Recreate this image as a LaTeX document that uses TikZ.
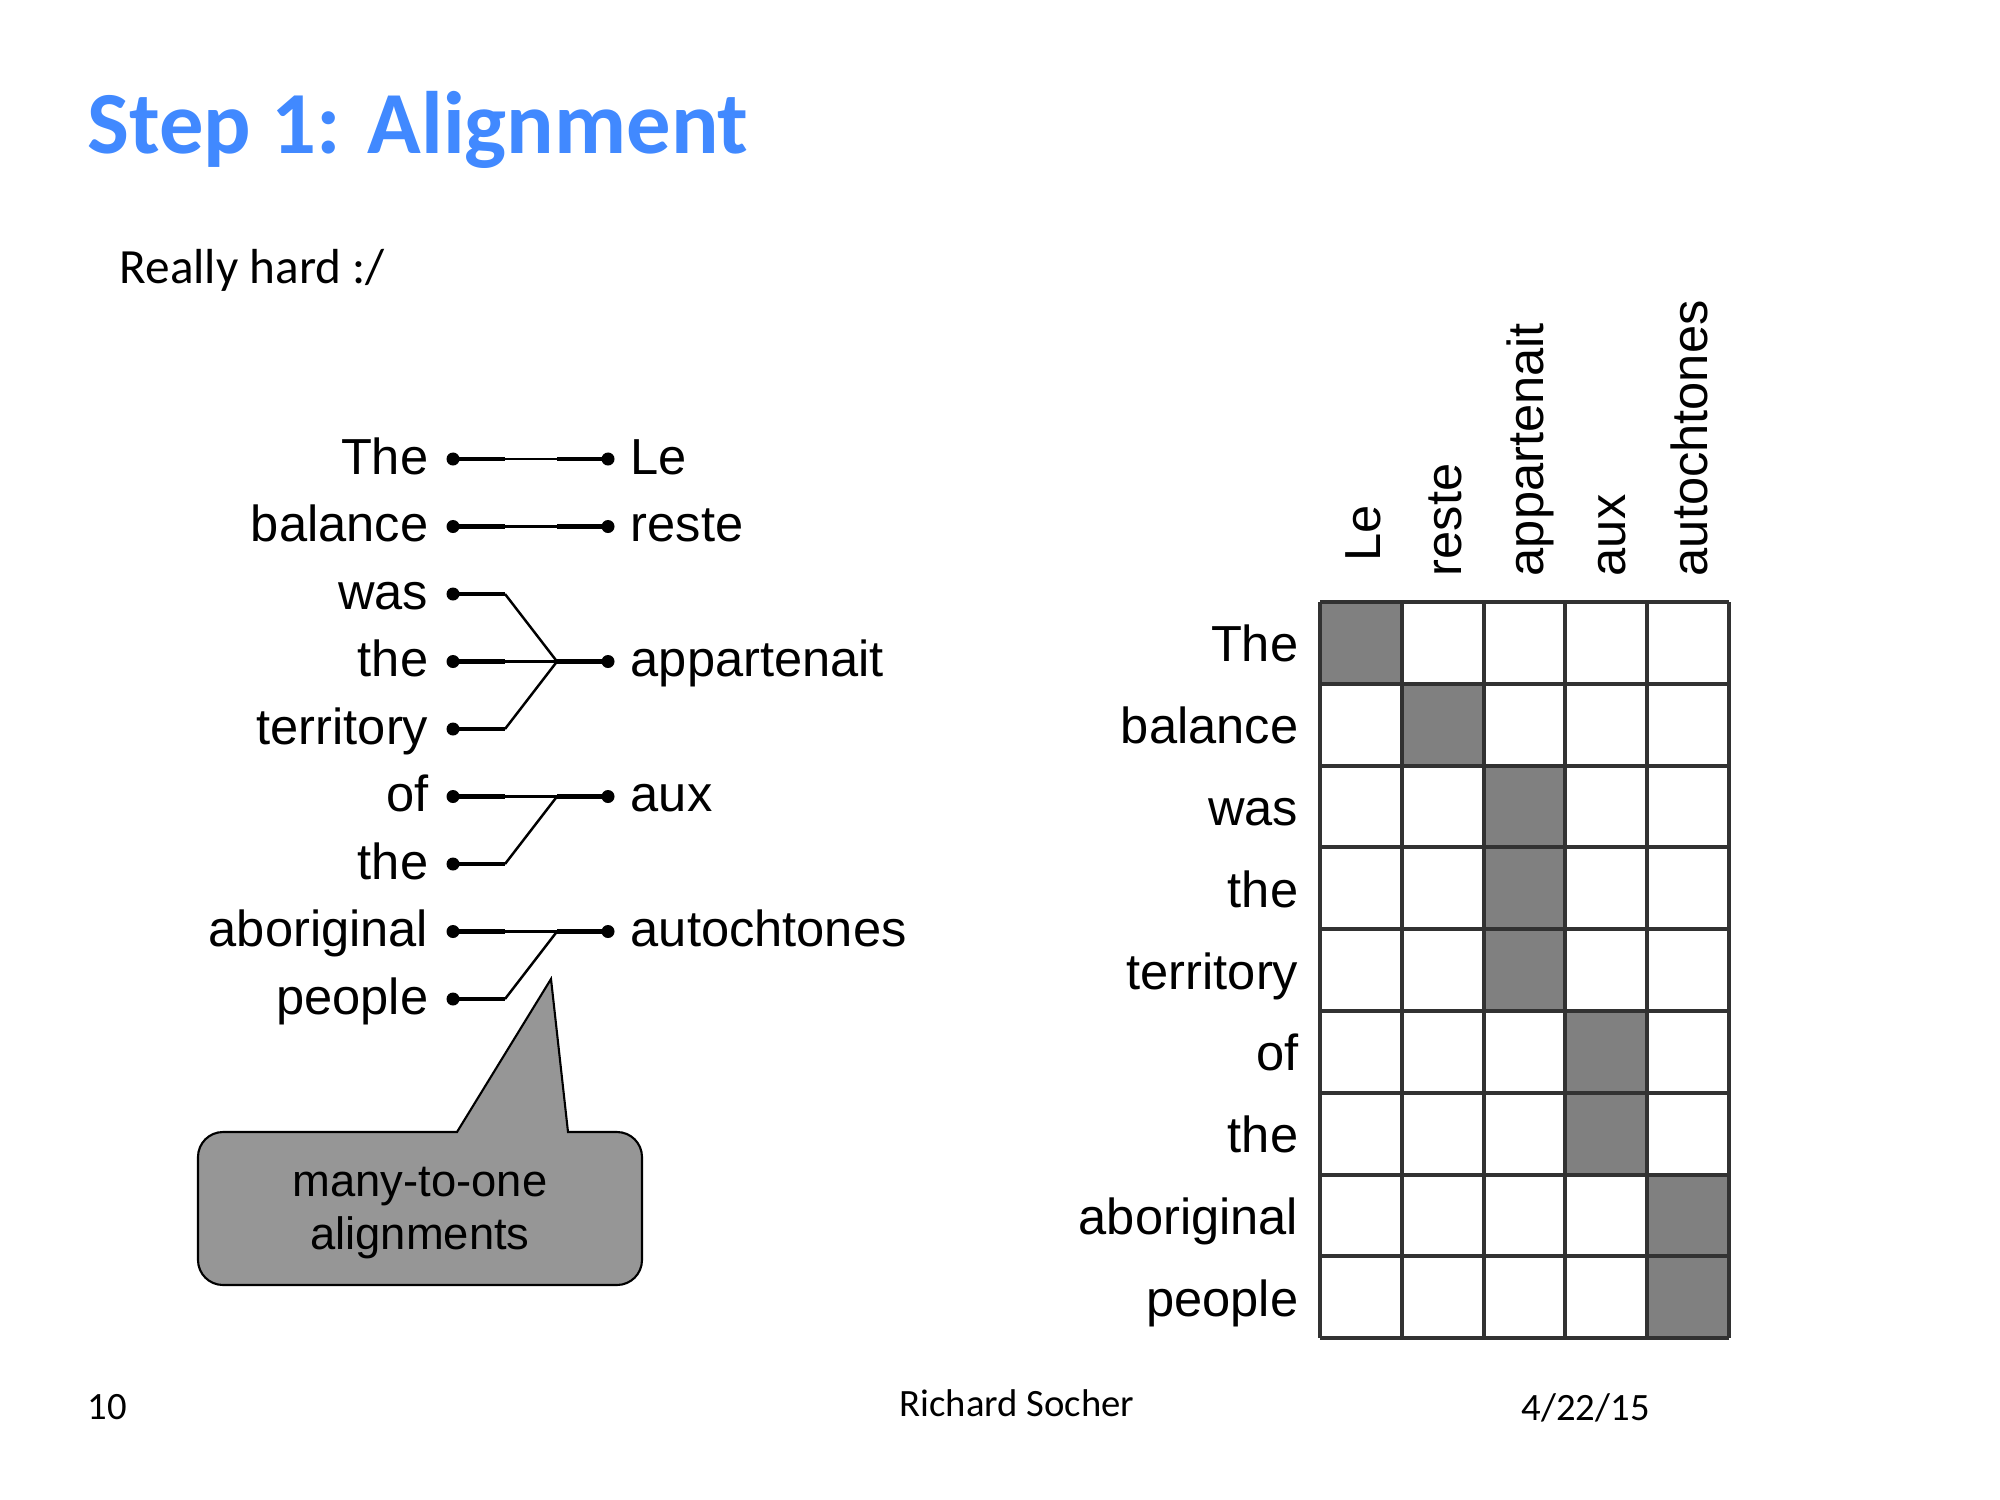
\documentclass[tikz,border=0pt]{standalone}
\usepackage{fontspec}
\setmainfont{Carlito}
\newfontfamily\arial{Liberation Sans}
\usetikzlibrary{positioning}
\definecolor{titleblue}{RGB}{65,137,255}
\definecolor{cellgray}{RGB}{128,128,128}
\definecolor{gridline}{RGB}{50,50,50}
\definecolor{callgray}{RGB}{150,150,150}

\begin{document}
\begin{tikzpicture}[x=0.01cm,y=-0.01cm]
\tikzset{word/.style={font=\arial\fontsize{14.4}{17}\selectfont,inner sep=0pt}}
\tikzset{dot/.style={circle,fill=black,inner sep=0pt,minimum size=0.13cm}}
\tikzset{thicklink/.style={line width=1.4pt}}
\tikzset{thinlink/.style={line width=0.7pt}}
\tikzset{footer/.style={font=\fontsize{11}{13}\selectfont,inner sep=0pt}}

\useasboundingbox (0,0) rectangle (2000,1500);

\node[anchor=base west,inner sep=0pt,text=titleblue,font=\bfseries\fontsize{25.2}{30}\selectfont] (title) at (87,153) {Step 1: Alignment};
\node[anchor=base west,inner sep=0pt,font=\fontsize{14}{17}\selectfont] (hard) at (119,283) {Really hard :/};

% left: english words with dots
\foreach \w [count=\i] in {The,balance,was,the,territory,of,the,aboriginal,people}{
  \node[dot] (ld\i) at (453,459+67.5*\i-67.5) {};
  \node[word,anchor=base east] (en\i) at (429,474+67.5*\i-67.5) {\w};
  \coordinate (a\i) at (505,459+67.5*\i-67.5);
  \draw[thicklink] (ld\i.center) -- (a\i);
}
% right: french words
\foreach \w/\r [count=\j] in {Le/1,reste/2,appartenait/4,aux/6,autochtones/8}{
  \node[dot] (rd\j) at (608,459+67.5*\r-67.5) {};
  \node[word,anchor=base west] (fr\j) at (630,474+67.5*\r-67.5) {\w};
  \coordinate (b\j) at (557,459+67.5*\r-67.5);
  \draw[thicklink] (b\j) -- (rd\j.center);
}
\foreach \i/\j in {1/1,2/2,3/3,4/3,5/3,6/4,7/4,8/5,9/5}
  \draw[thinlink] (a\i) -- (b\j);

% callout
\draw[fill=callgray,line width=0.6pt] (198,1200) [rounded corners=0.25cm] -- (198,1132) [sharp corners] -- (457,1132) -- (551,979) -- (568,1132) [rounded corners=0.25cm] -- (642,1132) -- (642,1285) -- (198,1285) -- cycle;
\node[align=center,inner sep=0pt,font=\arial\fontsize{12.9}{15.2}\selectfont] (many) at (420,1213) {many-to-one\\alignments};

% matrix
\foreach \i/\j in {1/1,2/2,3/3,4/3,5/3,6/4,7/4,8/5,9/5}
  \fill[cellgray] (1320+81.8*\j-81.8,602+81.8*\i-81.8) rectangle +(81.8,81.8);
\foreach \c in {0,...,5}
  \draw[gridline,line width=1.1pt] (1320+81.8*\c,602) -- (1320+81.8*\c,1338);
\foreach \r in {0,...,9}
  \draw[gridline,line width=1.1pt] (1320,602+81.8*\r) -- (1729,602+81.8*\r);
\foreach \w [count=\i] in {The,balance,was,the,territory,of,the,aboriginal,people}
  \node[word,anchor=base east] (row\i) at (1299,602+81.8*\i-40.9+19) {\w};
\node[word,anchor=base west,rotate=90] (col1) at (1380,562) {Le};
\foreach \w [count=\j from 2] in {reste,appartenait,aux,autochtones}
  \node[word,anchor=base west,rotate=90] (col\j) at (1320+81.8*\j-81.8+60,577) {\w};

% footer
\node[footer,anchor=base west] (page) at (87,1419) {10};
\node[footer,anchor=base] (author) at (1017,1416) {Richard Socher};
\node[footer,anchor=base west] (date) at (1521,1420) {4/22/15};
\end{tikzpicture}
\end{document}
